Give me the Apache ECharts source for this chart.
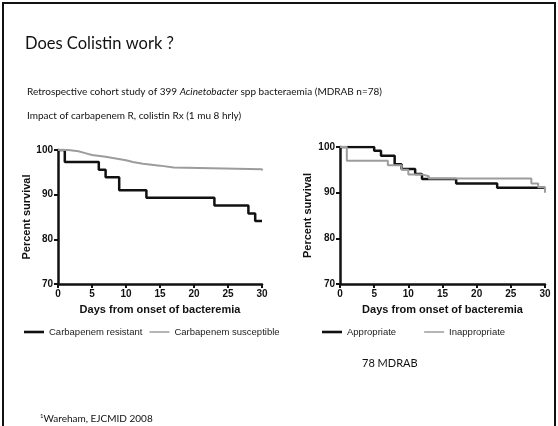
<!DOCTYPE html>
<html><head><meta charset="utf-8">
<script src="https://cdn.jsdelivr.net/npm/echarts@6/dist/echarts.min.js"></script>
<style>html,body{margin:0;padding:0;background:#fff}#c{width:558px;height:426px}</style>
</head><body><div id="c"></div>
<script>
// ---- data ----
const resistantDays = [0, 1, 6, 7, 9, 13, 23, 28, 29, 30];
const resistantSurv = [100, 97.3, 95.6, 93.9, 91.0, 89.3, 87.6, 85.8, 84.1, 84.1];
const susceptibleDays = [0, 1.5, 3, 4, 5, 7, 8.5, 10, 11, 12.5, 15, 17, 30, 30];
const susceptibleSurv = [100, 99.7, 99.3, 98.9, 98.5, 98.1, 97.7, 97.3, 96.9, 96.5, 96.1, 95.7, 95.7, 95.4];
const appropriateDays = [0, 5, 6, 8, 9, 11, 12, 17, 23, 30];
const appropriateSurv = [100, 99.2, 98.1, 96.2, 95.2, 94.1, 93.0, 92.0, 91.1, 91.1];
const inappropriateDays = [0, 1, 7, 9, 10, 12, 13, 28, 29, 30, 30];
const inappropriateSurv = [100, 97.0, 96.0, 95.0, 94.0, 93.6, 93.1, 92.0, 91.2, 91.2, 90.0];
const xTicks = [0, 5, 10, 15, 20, 25, 30];
const yTicks = [70, 80, 90, 100];
const leftLegend = ['Carbapenem resistant', 'Carbapenem susceptible'];
const rightLegend = ['Appropriate', 'Inappropriate'];

const zip = (a, b) => a.map((v, i) => [v, b[i]]);
const AX = 'Liberation Sans, Arial, sans-serif';
const SL = 'Lato, "Open Sans", sans-serif';
const BLACK = '#111';
const GREY = '#9c9c9c';
const thickIcon = 'path://M0,0H20V2.6H0Z';
const thinIcon = 'path://M0,0H20V1.5H0Z';

function xAx(gi) {
  return {
    type: 'value', gridIndex: gi, min: xTicks[0], max: xTicks[xTicks.length - 1], interval: 5,
    name: 'Days from onset of bacteremia', nameLocation: 'middle', nameGap: 20,
    nameTextStyle: { fontFamily: AX, fontWeight: 'bold', fontSize: 11, color: '#111' },
    axisLine: { onZero: false, lineStyle: { color: '#111', width: 2.5 } },
    axisTick: { length: 4, lineStyle: { color: '#111', width: 2 } },
    axisLabel: { fontFamily: AX, fontWeight: 'bold', fontSize: 10, color: '#111', margin: 5 },
    splitLine: { show: false }
  };
}
function yAx(gi, gap) {
  return {
    type: 'value', gridIndex: gi, min: yTicks[0], max: yTicks[yTicks.length - 1], interval: 10,
    name: 'Percent survival', nameLocation: 'middle', nameGap: gap,
    nameTextStyle: { fontFamily: AX, fontWeight: 'bold', fontSize: 11, color: '#111' },
    axisLine: { show: true, onZero: false, lineStyle: { color: '#111', width: 2.5 } },
    axisTick: { show: true, length: 4, lineStyle: { color: '#111', width: 2 } },
    axisLabel: { fontFamily: AX, fontWeight: 'bold', fontSize: 10, color: '#111', margin: 5 },
    splitLine: { show: false }
  };
}
function ser(name, gi, days, surv, color, w) {
  return {
    name, type: 'line', xAxisIndex: gi, yAxisIndex: gi, step: 'end', symbol: 'none',
    data: zip(days, surv), lineStyle: { color, width: w }, itemStyle: { color }
  };
}

const chart = echarts.init(document.getElementById('c'), null, { renderer: 'canvas' });
chart.setOption({
  animation: false,
  backgroundColor: '#fff',
  grid: [
    { left: 58, top: 150, width: 204, height: 134 },
    { left: 340, top: 147, width: 205, height: 137 }
  ],
  xAxis: [xAx(0), xAx(1)],
  yAxis: [yAx(0, 25), yAx(1, 27)],
  legend: [
    { data: [{ name: leftLegend[0], icon: thickIcon }, { name: leftLegend[1], icon: thinIcon }],
      left: 24, top: 327, padding: 0, itemWidth: 20, itemHeight: 10, itemGap: 7,
      textStyle: { fontFamily: AX, fontSize: 9.5, color: '#222' } },
    { data: [{ name: rightLegend[0], icon: thickIcon }, { name: rightLegend[1], icon: thinIcon }],
      left: 322, top: 327, padding: 0, itemWidth: 20, itemHeight: 10, itemGap: 28,
      textStyle: { fontFamily: AX, fontSize: 9.5, color: '#222' } }
  ],
  series: [
    ser(leftLegend[0], 0, resistantDays, resistantSurv, BLACK, 2.5),
    ser(leftLegend[1], 0, susceptibleDays, susceptibleSurv, GREY, 2),
    ser(rightLegend[0], 1, appropriateDays, appropriateSurv, BLACK, 2.5),
    ser(rightLegend[1], 1, inappropriateDays, inappropriateSurv, GREY, 2)
  ],
  graphic: [
    { type: 'rect', shape: { x: 3, y: 3, width: 552, height: 460 }, style: { fill: null, stroke: '#111', lineWidth: 2 }, silent: true },
    { type: 'text', left: 25, top: 35, style: { text: 'Does Colistin work ?', font: '16.5px ' + SL, fill: '#111' } },
    { type: 'text', left: 27, top: 87, style: {
        text: '{n|Retrospective cohort study of 399 }{i|Acinetobacter}{n| spp bacteraemia (MDRAB n=78)}',
        rich: { n: { font: '10px ' + SL, fill: '#111' }, i: { font: 'italic 10px ' + SL, fill: '#111' } } } },
    { type: 'text', left: 27, top: 111, style: { text: 'Impact of carbapenem R, colistin Rx (1 mu 8 hrly)', font: '10px ' + SL, fill: '#111' } },
    { type: 'text', left: 362, top: 358, style: { text: '78 MDRAB', font: '11px ' + SL, fill: '#111' } },
    { type: 'text', left: 40, top: 413, style: {
        text: '{s|1}{n|Wareham, EJCMID 2008}',
        rich: { s: { font: '6px ' + SL, fill: '#111', verticalAlign: 'top', padding: [0, 0, 5, 0] }, n: { font: '10px ' + SL, fill: '#111' } } } }
  ]
});
</script></body></html>
